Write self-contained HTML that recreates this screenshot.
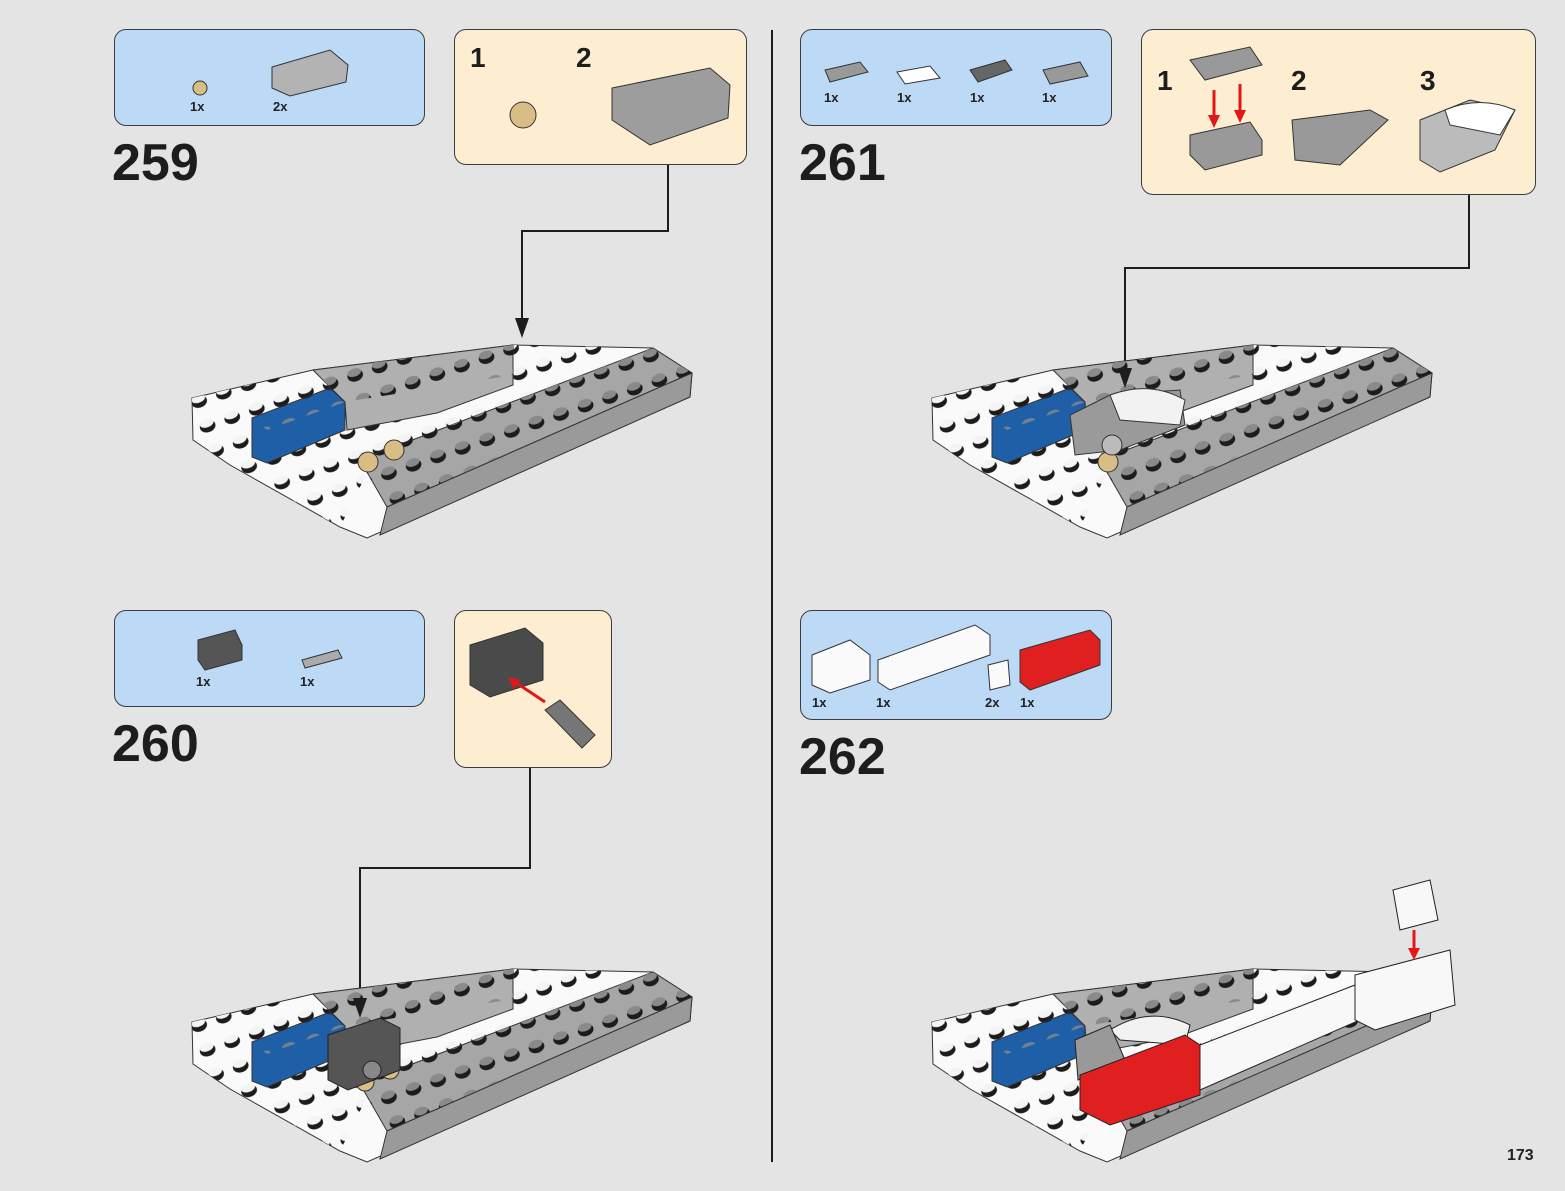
<!DOCTYPE html>
<html><head><meta charset="utf-8"><style>
body{margin:0;width:1565px;height:1191px;background:#e4e4e4;position:relative;overflow:hidden;font-family:"Liberation Sans",sans-serif}
.b{position:absolute;border:1.5px solid #3c3c3c;border-radius:12px;box-sizing:border-box}
.blue{background:#bcdaf5}.yel{background:#fdeed1}
.n{position:absolute;font-weight:bold;font-size:52px;color:#1d1d1d;line-height:1}
.q{position:absolute;font-weight:bold;font-size:13px;color:#222}
.s{position:absolute;font-weight:bold;font-size:28px;color:#1d1d1d}
svg{position:absolute;left:0;top:0}
</style></head><body>
<div class="b blue" style="left:114px;top:29px;width:311px;height:97px"></div>
<div class="b yel" style="left:454px;top:29px;width:293px;height:136px"></div>
<div class="b blue" style="left:800px;top:29px;width:312px;height:97px"></div>
<div class="b yel" style="left:1141px;top:29px;width:395px;height:166px"></div>
<div class="b blue" style="left:114px;top:610px;width:311px;height:97px"></div>
<div class="b yel" style="left:454px;top:610px;width:158px;height:158px"></div>
<div class="b blue" style="left:800px;top:610px;width:312px;height:110px"></div>

<div class="n" style="left:112px;top:137px">259</div>
<div class="n" style="left:799px;top:137px">261</div>
<div class="n" style="left:112px;top:718px">260</div>
<div class="n" style="left:799px;top:731px">262</div>
<div class="q" style="left:1507px;top:1147px;font-size:16px">173</div>

<div class="q" style="left:190px;top:99px">1x</div><div class="q" style="left:273px;top:99px">2x</div>
<div class="s" style="left:470px;top:42px">1</div><div class="s" style="left:576px;top:42px">2</div>
<div class="q" style="left:824px;top:90px">1x</div><div class="q" style="left:897px;top:90px">1x</div><div class="q" style="left:970px;top:90px">1x</div><div class="q" style="left:1042px;top:90px">1x</div>
<div class="s" style="left:1157px;top:65px">1</div><div class="s" style="left:1291px;top:65px">2</div><div class="s" style="left:1420px;top:65px">3</div>
<div class="q" style="left:196px;top:674px">1x</div><div class="q" style="left:300px;top:674px">1x</div>
<div class="q" style="left:812px;top:695px">1x</div><div class="q" style="left:876px;top:695px">1x</div><div class="q" style="left:985px;top:695px">2x</div><div class="q" style="left:1020px;top:695px">1x</div>

<svg width="1565" height="1191" viewBox="0 0 1565 1191">
<defs>
<pattern id="ds" width="26" height="26" patternUnits="userSpaceOnUse" patternTransform="rotate(-19)"><ellipse cx="13" cy="14" rx="8" ry="6" fill="#1c1c1c"/><ellipse cx="13" cy="11" rx="7" ry="4" fill="#8a8a8a"/></pattern>
<pattern id="ws" width="26" height="26" patternUnits="userSpaceOnUse" patternTransform="rotate(-19)"><ellipse cx="13" cy="14" rx="8" ry="6" fill="#1c1c1c"/><ellipse cx="13" cy="11" rx="7" ry="4" fill="#f4f4f4"/></pattern>
<g id="base" stroke="#333" stroke-width="1">
<polygon points="2,63 123,35 323,10 463,13 502,38 500,62 177,203 150,192 40,130 3,105" fill="#fafafa"/>
<polygon points="2,63 123,35 323,10 463,13 502,38 180,132 150,192 40,130 3,105" fill="url(#ws)" stroke="none"/>
<polygon points="170,125 463,13 502,38 197,172" fill="#a6a6a6"/>
<polygon points="170,125 463,13 502,38 197,172" fill="url(#ds)" stroke="none"/>
<polygon points="197,172 502,38 500,62 190,200" fill="#9a9a9a"/>
<polygon points="123,35 323,10 323,50 247,78 157,95 155,67" fill="#b0b0b0"/>
<polygon points="123,35 323,10 323,40 155,67" fill="url(#ds)" stroke="none"/>
<polygon points="62,83 140,53 155,67 155,95 77,128 62,122" fill="#1f5fa8"/>
<polygon points="62,83 140,53 155,67 77,95" fill="url(#ds)" opacity=".8" stroke="none"/>
</g>
</defs>
<g fill="none" stroke="#1d1d1d" stroke-width="2">
<polyline points="668,165 668,231 522,231 522,320"/>
<polyline points="1469,195 1469,268 1125,268 1125,370"/>
<polyline points="530,768 530,868 360,868 360,1000"/>
<line x1="772" y1="30" x2="772" y2="1162"/>
</g>
<use href="#base" transform="translate(190,335)"/>
<use href="#base" transform="translate(930,335)"/>
<use href="#base" transform="translate(190,959)"/>
<use href="#base" transform="translate(930,959)"/>
<g fill="#1d1d1d"><polygon points="515,318 529,318 522,338"/><polygon points="1118,368 1132,368 1125,388"/><polygon points="353,998 367,998 360,1018"/></g>
<g fill="#d8bd84" stroke="#333"><circle cx="368" cy="462" r="10"/><circle cx="394" cy="450" r="10"/><circle cx="365" cy="1082" r="9"/><circle cx="390" cy="1070" r="9"/><circle cx="1108" cy="462" r="10"/></g>
<g stroke="#333"><polygon points="1070,415 1110,395 1180,390 1185,425 1120,450 1075,455" fill="#9a9a9a"/><path d="M1110,395 Q1150,380 1185,400 L1180,425 L1120,420Z" fill="#f2f2f2"/><circle cx="1112" cy="445" r="10" fill="#bbb"/></g>
<g stroke="#222"><polygon points="328,1035 380,1018 400,1028 400,1070 348,1090 328,1080" fill="#555"/><circle cx="372" cy="1070" r="9" fill="#888"/></g>
<g stroke="#222">
<path d="M1110,1030 Q1150,1005 1190,1025 L1185,1045 L1120,1040Z" fill="#f2f2f2"/>
<polygon points="1075,1040 1110,1025 1125,1060 1078,1080" fill="#999"/>
<polygon points="1080,1075 1185,1035 1200,1045 1200,1095 1110,1125 1080,1110" fill="#e02020"/>
<polygon points="1200,1045 1355,985 1360,1020 1200,1090" fill="#f8f8f8"/>
<polygon points="1355,975 1450,950 1455,1005 1375,1030 1355,1020" fill="#f8f8f8"/>
<polygon points="1393,890 1430,880 1438,920 1400,930" fill="#f8f8f8"/>
</g>
<g stroke="#e01818" stroke-width="3"><line x1="1414" y1="930" x2="1414" y2="950"/></g><polygon points="1408,948 1420,948 1414,960" fill="#e01818"/>
<g stroke="#333">
<circle cx="200" cy="88" r="7" fill="#d8bd84"/>
<polygon points="272,67 330,50 348,65 346,82 290,96 272,88" fill="#b3b3b3"/>
<circle cx="523" cy="115" r="13" fill="#d8bd84"/>
<polygon points="612,88 710,68 730,85 728,118 650,145 612,120" fill="#9d9d9d"/>
<polygon points="825,70 860,62 868,72 830,82" fill="#999"/><polygon points="897,72 930,66 940,78 905,84" fill="#fff"/>
<polygon points="970,70 1005,60 1012,70 978,82" fill="#666"/><polygon points="1043,70 1080,62 1088,76 1050,84" fill="#999"/>
<polygon points="1190,60 1250,47 1262,65 1205,80" fill="#999"/><polygon points="1190,135 1250,122 1262,140 1262,155 1205,170 1190,155" fill="#999"/>
<polygon points="1292,120 1370,110 1388,120 1340,165 1295,160" fill="#999"/>
<polygon points="1420,120 1470,100 1515,110 1495,150 1440,172 1420,160" fill="#bbb"/><path d="M1445,110 Q1480,95 1515,110 L1500,135 L1450,125Z" fill="#fff"/>
<polygon points="198,640 235,630 242,645 242,660 205,670 198,660" fill="#555"/>
<polygon points="302,660 338,650 342,658 305,668" fill="#aaa"/>
<polygon points="470,645 525,628 543,643 543,680 490,697 470,685" fill="#4a4a4a"/>
<polygon points="545,710 560,700 595,735 582,748" fill="#777"/>
<polygon points="812,655 850,640 870,655 870,680 830,693 812,685" fill="#fafafa"/>
<polygon points="878,660 975,625 990,635 990,655 890,690 878,682" fill="#fafafa"/>
<polygon points="988,665 1008,660 1010,685 990,690" fill="#fafafa"/>
<polygon points="1020,650 1090,630 1100,640 1100,665 1030,690 1020,682" fill="#e02020"/>
</g>
<g stroke="#e01818" stroke-width="3"><line x1="1214" y1="90" x2="1214" y2="118"/><line x1="1240" y1="84" x2="1240" y2="112"/><line x1="545" y1="702" x2="515" y2="682"/></g>
<g fill="#e01818"><polygon points="1208,115 1220,115 1214,128"/><polygon points="1234,110 1246,110 1240,123"/><polygon points="508,677 520,680 514,690"/></g>
</svg>
</body></html>
